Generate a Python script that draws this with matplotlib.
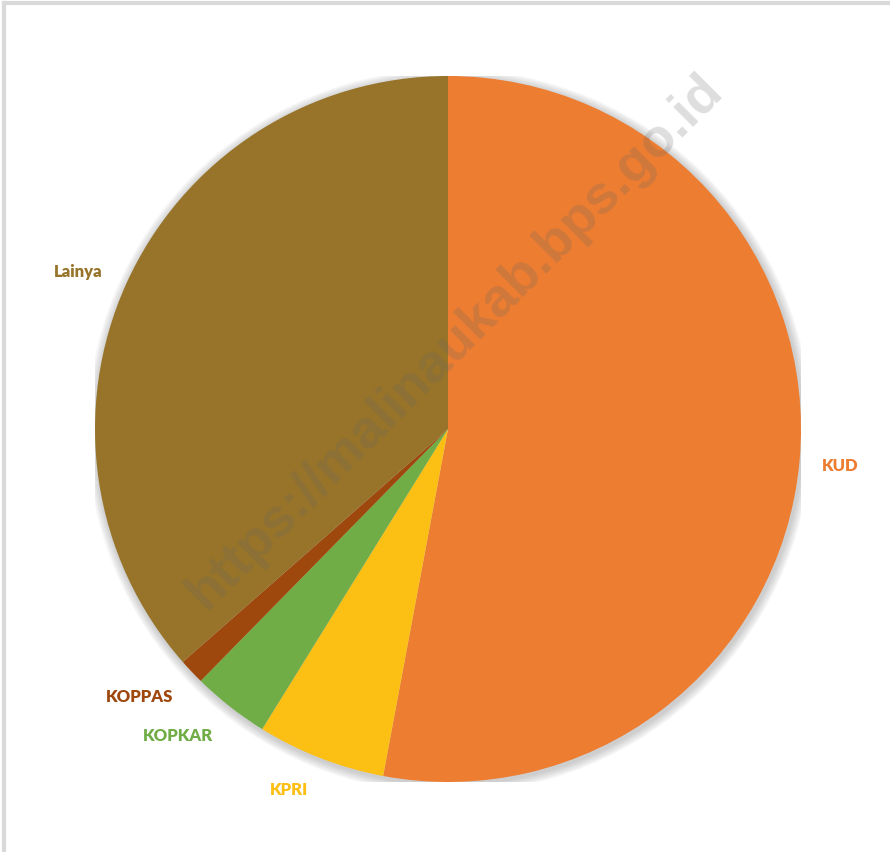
import matplotlib
matplotlib.use("Agg")
import matplotlib.pyplot as plt
import numpy as np
from matplotlib.patches import Circle

# Koperasi by type
categories = ["KUD", "KPRI", "KOPKAR", "KOPPAS", "Lainya"]
counts = [90, 10, 6, 2, 62]
colors = ["#ED7D31", "#FCBF14", "#70AD47", "#9E480E", "#977429"]

W, H = 890, 853
fig = plt.figure(figsize=(W / 100, H / 100), dpi=100)
fig.patch.set_facecolor("white")

# frame lines on the left and top edges
fig.add_artist(plt.Line2D([3.5 / W, 3.5 / W], [0, 1 - 3.5 / H], color="#d9d9d9", lw=3))
fig.add_artist(plt.Line2D([3.5 / W, 1], [1 - 3.5 / H, 1 - 3.5 / H], color="#d9d9d9", lw=3))

cx, cy, R = 448, H - 430, 353
ax = fig.add_axes([(cx - R) / W, (cy - R) / H, 2 * R / W, 2 * R / H])
ax.set_xlim(-1, 1)
ax.set_ylim(-1, 1)
ax.set_aspect("equal")
ax.axis("off")

# soft drop shadow around the pie
for i in range(12):
    r = 1.0 + 0.0022 * (i + 1)
    ax.add_patch(Circle((0.004, -0.006), r, color="#7f7f7f",
                        alpha=0.035, lw=0, zorder=0))

wedges, _ = ax.pie(counts, colors=colors, startangle=90, counterclock=False,
                   radius=1.0, wedgeprops=dict(linewidth=0, zorder=2),
                   frame=False)
ax.set_xlim(-1, 1)
ax.set_ylim(-1, 1)

# outside label placement: (radial distance, angular nudge in degrees, CCW)
label_place = {"KUD": (1.115, 0.0), "KPRI": (1.115, -2.6), "KOPKAR": (1.156, -3.3),
               "KOPPAS": (1.155, -2.5), "Lainya": (1.14, 1.25)}
for w, name, col in zip(wedges, categories, colors):
    mid = np.deg2rad((w.theta1 + w.theta2) / 2)
    dist, nudge = label_place[name]
    a = mid + np.deg2rad(nudge)
    ax.text(dist * np.cos(a), dist * np.sin(a), name, color=col,
            ha="center", va="center", fontsize=12, fontweight="heavy",
            family="Lato", zorder=5, clip_on=False)

# watermark
fig.text(455 / W, 1 - 342 / H, "https://malinaukab.bps.go.id", rotation=45,
         ha="center", va="center", rotation_mode="anchor", fontsize=39,
         fontweight="bold", family="Liberation Sans", color="#666666",
         alpha=0.22, zorder=10)

fig.savefig("out.png", dpi=100, facecolor="white")
